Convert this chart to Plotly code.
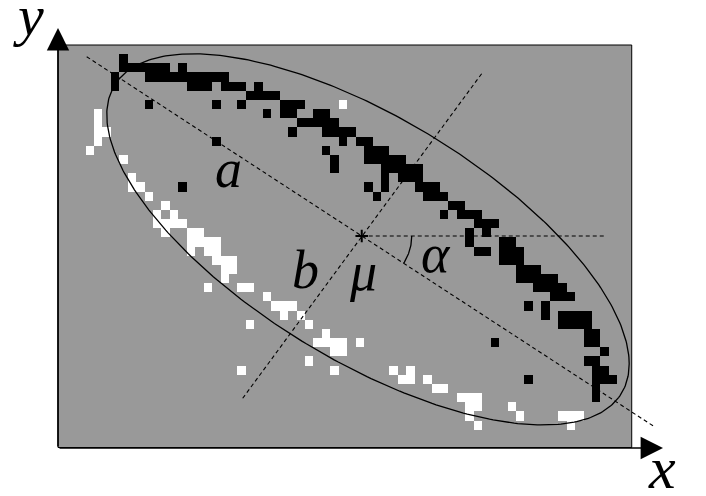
import numpy as np
import plotly.graph_objects as go

# ---------------- data ----------------
N_COLS = 68          # bitmap columns
N_ROWS = 44          # bitmap rows

# black pixels: row -> list of columns
BLACK_PIXELS = {
    1: [7],
    2: [7, 8, 9, 10, 11, 12, 14],
    3: [6, 10, 11, 12, 13, 14, 15, 16, 17, 18, 19],
    4: [6, 15, 16, 17, 19, 20, 21, 23],
    5: [22, 23, 24, 25],
    6: [10, 18, 21, 26, 27, 28],
    7: [24, 26, 27, 30, 31],
    8: [28, 29, 30, 31, 32],
    9: [27, 31, 32, 33, 34],
    10: [18, 33, 35, 36],
    11: [31, 36, 37, 38],
    12: [32, 36, 37, 38, 39, 40],
    13: [32, 38, 39, 40, 41, 42],
    14: [38, 40, 41, 42],
    15: [14, 36, 38, 42, 43, 44],
    16: [37, 43, 44, 45],
    17: [46, 47],
    18: [45, 47, 48, 49],
    19: [49, 50, 51],
    20: [48, 50],
    21: [48, 52, 53],
    22: [49, 50, 52, 53, 54],
    23: [52, 53, 54],
    24: [54, 55, 56],
    25: [54, 55, 56, 57, 58],
    26: [56, 57, 58, 59],
    27: [58, 59, 60],
    28: [55, 57],
    29: [57, 59, 60, 61, 62],
    30: [59, 60, 61, 62],
    31: [62, 63],
    32: [51, 62, 63],
    33: [64],
    34: [62, 63],
    35: [63, 64],
    36: [55, 63, 64, 65],
    37: [63],
    38: [63],
}

# white pixels: row -> list of columns
WHITE_PIXELS = {
    6: [33],
    7: [4],
    8: [4],
    9: [4, 5],
    10: [4],
    11: [3],
    12: [7],
    14: [8],
    15: [8, 9],
    16: [10],
    17: [12],
    18: [11, 13],
    19: [11, 12, 13, 14],
    20: [12, 15, 16],
    21: [15, 16, 17, 18],
    22: [15, 17, 18],
    23: [18, 19, 20],
    24: [19, 20],
    25: [19],
    26: [17, 21, 22],
    27: [24],
    28: [25, 26, 27],
    29: [26, 28],
    30: [22, 29],
    31: [31],
    32: [30, 31, 32, 33, 35],
    33: [32, 33],
    34: [29],
    35: [21, 32, 39, 41],
    36: [40, 41, 43],
    37: [44, 45],
    38: [47, 48, 49],
    39: [48, 49, 53],
    40: [48, 54, 59, 60, 61],
    41: [49, 60],
}

# geometry (bitmap units: x = column, y = row, y downwards)
MU = (35.74, 20.88)                       # mean
ELLIPSE_CENTER = (36.48, 21.25)
ELLIPSE_SXX = 958.5                        # shape matrix of the ellipse
ELLIPSE_SYY = 411.6
ELLIPSE_SXY = 421.1
MAJOR_AXIS_ENDS = [(3.14, 1.28), (70.30, 41.65)]
MINOR_AXIS_ENDS = [(21.63, 38.62), (50.08, 2.98)]
HORIZ_END_X = 64.69
ALPHA_DEG = 33.1
ARC_RADIUS = 50.0       # px-equivalent radius of the angle arc

FRAME = dict(x0=-0.26, x1=67.74, y0=0.0, y1=44.0)
AXIS_Y_LEVEL = 44.05
X_ARROW_TIP = 71.45
Y_ARROW_TIP = -1.86

LABELS = [
    ("a", 19.9, 13.6, 54),
    ("b", 29.1, 24.6, 54),
    ("\u03bc", 35.9, 24.8, 54),
    ("\u03b1", 44.6, 22.9, 54),
]
# axis labels: text, x, y of glyph bottom, font size, box height, vertical align
AXIS_LABELS = [
    ("y", -3.75, 0.45, 58, 44, "bottom"),
    ("x", 71.3, 48.65, 60, 54, "top"),
]

# pixel scale of one bitmap unit (for the circular arc)
SX, SY = 8.437, 9.148

GRAY = "#999999"

# ---------------- build ----------------
z = np.full((N_ROWS, N_COLS), np.nan)
for r, cols in WHITE_PIXELS.items():
    for c in cols:
        z[r, c] = 0
for r, cols in BLACK_PIXELS.items():
    for c in cols:
        z[r, c] = 1

fig = go.Figure()

fig.add_trace(go.Heatmap(
    z=z, x0=0.5, dx=1, y0=0.5, dy=1,
    colorscale=[[0, "#ffffff"], [1, "#000000"]], zmin=0, zmax=1,
    showscale=False, hoverinfo="skip", zsmooth=False,
))

dash = "4px,3px"
fig.add_trace(go.Scatter(
    x=[p[0] for p in MAJOR_AXIS_ENDS], y=[p[1] for p in MAJOR_AXIS_ENDS],
    mode="lines", line=dict(color="black", width=1.1, dash=dash), hoverinfo="skip"))
fig.add_trace(go.Scatter(
    x=[p[0] for p in MINOR_AXIS_ENDS], y=[p[1] for p in MINOR_AXIS_ENDS],
    mode="lines", line=dict(color="black", width=1.1, dash=dash), hoverinfo="skip"))
fig.add_trace(go.Scatter(
    x=[MU[0], HORIZ_END_X], y=[MU[1], MU[1]],
    mode="lines", line=dict(color="black", width=1.1, dash=dash), hoverinfo="skip"))

# ellipse
t = np.linspace(0, 2 * np.pi, 400)
ax_ = np.sqrt(ELLIPSE_SXX)
ay_ = ELLIPSE_SXY / ax_
by_ = np.sqrt(ELLIPSE_SYY - ay_ ** 2)
ex = ELLIPSE_CENTER[0] + ax_ * np.cos(t)
ey = ELLIPSE_CENTER[1] + ay_ * np.cos(t) + by_ * np.sin(t)
fig.add_trace(go.Scatter(x=ex, y=ey, mode="lines",
                         line=dict(color="black", width=1.3), hoverinfo="skip"))

# angle arc
th = np.radians(np.linspace(0, ALPHA_DEG, 40))
fig.add_trace(go.Scatter(
    x=MU[0] + ARC_RADIUS * np.cos(th) / SX,
    y=MU[1] + ARC_RADIUS * np.sin(th) / SY,
    mode="lines", line=dict(color="black", width=1.3), hoverinfo="skip"))

# mean marker
fig.add_trace(go.Scatter(x=[MU[0]], y=[MU[1]], mode="markers",
                         marker=dict(symbol="cross-thin", size=9,
                                     line=dict(color="black", width=2)),
                         hoverinfo="skip"))

shapes = [dict(type="rect", xref="x", yref="y", layer="below",
               fillcolor=GRAY, line=dict(color="black", width=1), **FRAME)]

annotations = []
# axes with arrows
annotations.append(dict(x=FRAME["x0"], y=Y_ARROW_TIP, ax=FRAME["x0"], ay=AXIS_Y_LEVEL,
                        xref="x", yref="y", axref="x", ayref="y", text="",
                        showarrow=True, arrowhead=2, arrowsize=2.8, arrowwidth=1.6,
                        arrowcolor="black", standoff=0, startstandoff=0))
annotations.append(dict(x=X_ARROW_TIP, y=AXIS_Y_LEVEL, ax=FRAME["x0"], ay=AXIS_Y_LEVEL,
                        xref="x", yref="y", axref="x", ayref="y", text="",
                        showarrow=True, arrowhead=2, arrowsize=2.8, arrowwidth=1.6,
                        arrowcolor="black", standoff=0, startstandoff=0))
for txt, x, y, s in LABELS:
    annotations.append(dict(x=x, y=y, xref="x", yref="y", text=f"<i>{txt}</i>",
                            showarrow=False, xanchor="center", yanchor="middle",
                            font=dict(family="Liberation Serif", size=s, color="black")))
for txt, x, y, s, h, va in AXIS_LABELS:
    annotations.append(dict(x=x, y=y, xref="x", yref="y", text=f"<i>{txt}</i>",
                            showarrow=False, xanchor="center", yanchor="bottom",
                            height=h, valign=va, borderpad=0,
                            font=dict(family="Liberation Serif", size=s, color="black")))

fig.update_layout(
    width=706, height=496,
    margin=dict(l=0, r=0, t=0, b=0, pad=0),
    paper_bgcolor="white", plot_bgcolor="white",
    showlegend=False,
    xaxis=dict(range=[-7.135, 76.544], visible=False, fixedrange=True),
    yaxis=dict(range=[49.301, -4.919], visible=False, fixedrange=True),
    shapes=shapes, annotations=annotations,
)

fig.write_html(
    "out.html",
    config={"displayModeBar": False},
    post_script="document.body.style.margin='0';document.body.style.overflow='hidden';",
)
